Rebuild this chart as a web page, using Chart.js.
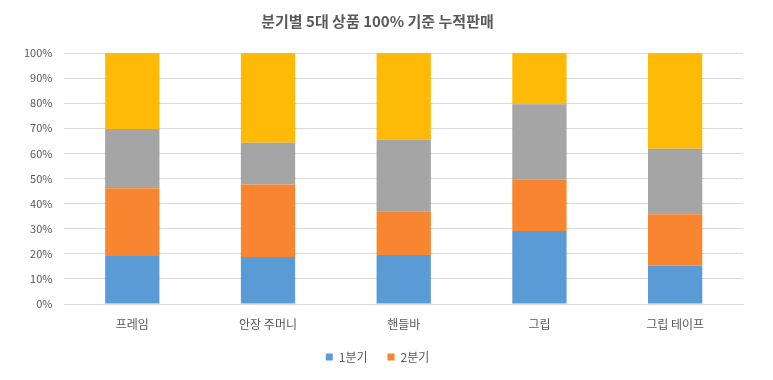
<!DOCTYPE html>
<html>
<head>
<meta charset="utf-8">
<script src="https://cdn.jsdelivr.net/npm/chart.js@4"></script>
<style>
html,body{margin:0;padding:0;background:#fff;}
#wrap{width:773px;height:380px;position:relative;}
</style>
</head>
<body>
<div id="wrap"><canvas id="c" width="773" height="380"></canvas></div>
<script>
const categories = ['프레임', '안장 주머니', '핸들바', '그립', '그립 테이프'];
const seriesNames = ['1분기', '2분기', '3분기', '4분기'];
const q1 = [19.1, 18.7, 19.5, 29.1, 15.2];
const q2 = [27.0, 28.9, 17.5, 20.6, 20.6];
const q3 = [23.6, 16.6, 28.4, 29.9, 26.1];
const q4 = [30.3, 35.8, 34.6, 20.4, 38.1];
const yTicks = [0, 10, 20, 30, 40, 50, 60, 70, 80, 90, 100];
const titleText = '분기별 5대 상품 100% 기준 누적판매';

const colors = ['#5B9BD5', '#F8852F', '#A5A5A5', '#FFBA08'];
const FONT = '"Noto Sans CJK KR", "Noto Sans", sans-serif';

new Chart(document.getElementById('c'), {
  type: 'bar',
  data: {
    labels: categories,
    datasets: [q1, q2, q3, q4].map((d, i) => ({
      label: seriesNames[i],
      data: d,
      backgroundColor: colors[i],
      borderWidth: 0,
      categoryPercentage: 1.0,
      barPercentage: 0.4
    }))
  },
  options: {
    responsive: false,
    animation: false,
    layout: { padding: { left: 12, right: 30, top: 6, bottom: 7 } },
    plugins: {
      title: {
        display: true,
        text: titleText,
        color: '#595959',
        font: { family: FONT, size: 15, weight: 'bold' },
        padding: { top: 6, bottom: 23 }
      },
      legend: {
        position: 'bottom',
        labels: {
          filter: (item) => item.datasetIndex < 2,
          boxWidth: 7,
          boxHeight: 7,
          color: '#595959',
          font: { family: FONT, size: 12 },
          padding: 20
        }
      },
      tooltip: { enabled: false }
    },
    scales: {
      x: {
        stacked: true,
        grid: { display: false, drawTicks: false },
        border: { color: '#D9D9D9' },
        ticks: { color: '#595959', font: { family: FONT, size: 12 }, padding: 13 },
        afterFit: (scale) => { scale.height = 27; }
      },
      y: {
        stacked: true,
        min: 0,
        max: 100,
        afterBuildTicks: (axis) => { axis.ticks = yTicks.map(v => ({ value: v })); },
        grid: { color: '#D9D9D9', drawTicks: false },
        border: { display: false },
        ticks: {
          color: '#595959',
          font: { family: FONT, size: 11 },
          padding: 12,
          callback: (v) => v + '%'
        }
      }
    }
  }
});
</script>
</body>
</html>
